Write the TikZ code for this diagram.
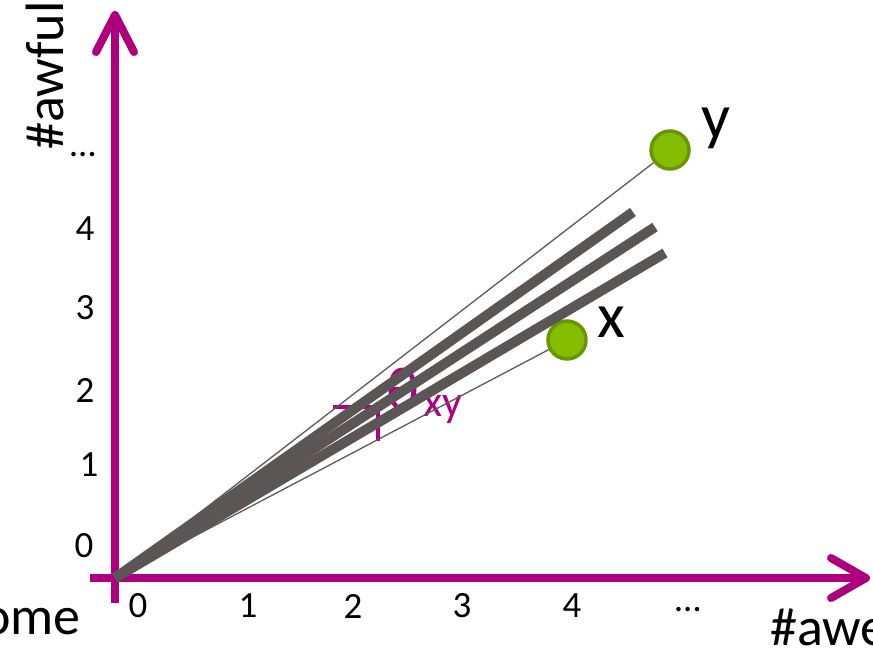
\documentclass[tikz,border=0pt]{standalone}
\usepackage{fontspec}
\setmainfont{Carlito}
\definecolor{axmag}{RGB}{174,0,126}
\definecolor{bargray}{RGB}{91,85,86}
\definecolor{thingray}{RGB}{90,90,90}
\definecolor{ptfill}{RGB}{132,189,0}
\definecolor{ptdraw}{RGB}{104,150,0}
\begin{document}
\begin{tikzpicture}[x=1pt,y=-1pt,
  axis/.style={draw=axmag,line width=8pt},
  arrowhd/.style={draw=axmag,line width=8pt,line cap=round,line join=round},
  tick/.style={font=\fontsize{37}{39}\selectfont,text=black,inner sep=0pt},
  axlabel/.style={font=\fontsize{54}{56}\selectfont,text=black,inner sep=0pt},
  ptlabel/.style={font=\fontsize{64}{66}\selectfont,text=black,inner sep=0pt},
  bar/.style={draw=bargray,line width=10pt},
  thin/.style={draw=thingray,line width=1.3pt},
  magstroke/.style={draw=axmag,line width=3.5pt},
  pt/.style={circle,fill=ptfill,draw=ptdraw,line width=3.5pt,minimum size=38pt,inner sep=0pt}]
\useasboundingbox (0,0) rectangle (873,648);
% coordinates
\coordinate (O) at (115,578);
\coordinate (ybot) at (115,603);
\coordinate (ytip) at (115,15);
\coordinate (xleft) at (90,578);
\coordinate (xtip) at (866,578);
\coordinate (yarmL) at (96,52);
\coordinate (yarmR) at (134,52);
\coordinate (xarmU) at (831,558);
\coordinate (xarmD) at (831,598);
% theta label
\node[text=axmag,font=\fontsize{62}{64}\selectfont,inner sep=0pt] (theta) at (403,390) {θ};
\node[text=axmag,font=\fontsize{44}{46}\selectfont,inner sep=0pt] (thsub) at (443,410) {xy};
\coordinate (m1a) at (333,407);
\coordinate (m1b) at (372,407);
\coordinate (m2a) at (378,405);
\coordinate (m2b) at (378,441);
\draw[magstroke] (m1a) -- (m1b);
\draw[magstroke] (m2a) -- (m2b);
% axes
\draw[axis] (ybot) -- (ytip);
\draw[axis] (xleft) -- (xtip);
\draw[arrowhd] (yarmL) -- (ytip) -- (yarmR);
\draw[arrowhd] (xarmU) -- (xtip) -- (xarmD);
% ticks y
\node[tick] (ty0) at (84,546) {0};
\node[tick] (ty1) at (89,465) {1};
\node[tick] (ty2) at (85,390) {2};
\node[tick] (ty3) at (85,308) {3};
\node[tick] (ty4) at (85,229) {4};
\node[tick] (tyd) at (83,155) {…};
% ticks x
\node[tick] (tx0) at (138,606) {0};
\node[tick] (tx1) at (248,606) {1};
\node[tick] (tx2) at (353,606) {2};
\node[tick] (tx3) at (462,606) {3};
\node[tick] (tx4) at (572,606) {4};
\node[tick] (txd) at (688,610) {…};
% axis labels
\node[axlabel,anchor=base east] (xlab) at (81,634) {\#awesome};
\node[axlabel,anchor=base west] (xlab2) at (770,645) {\#awe};
\node[axlabel,anchor=base west,rotate=90] (ylab) at (63,150) {\#awful};
% points
\node[pt] (ypt) at (670,150) {};
\node[pt] (xpt) at (567,340) {};
\node[ptlabel] (ylb) at (716,128) {y};
\node[ptlabel] (xlb) at (611,322) {x};
% thin lines
\draw[thin] (O) -- (ypt);
\draw[thin] (O) -- (xpt);
% bars
\coordinate (b1) at (633,212);
\coordinate (b2) at (655,227);
\coordinate (b3) at (665,253);
\draw[bar] (O) -- (b1);
\draw[bar] (O) -- (b2);
\draw[bar] (O) -- (b3);
\end{tikzpicture}
\end{document}
